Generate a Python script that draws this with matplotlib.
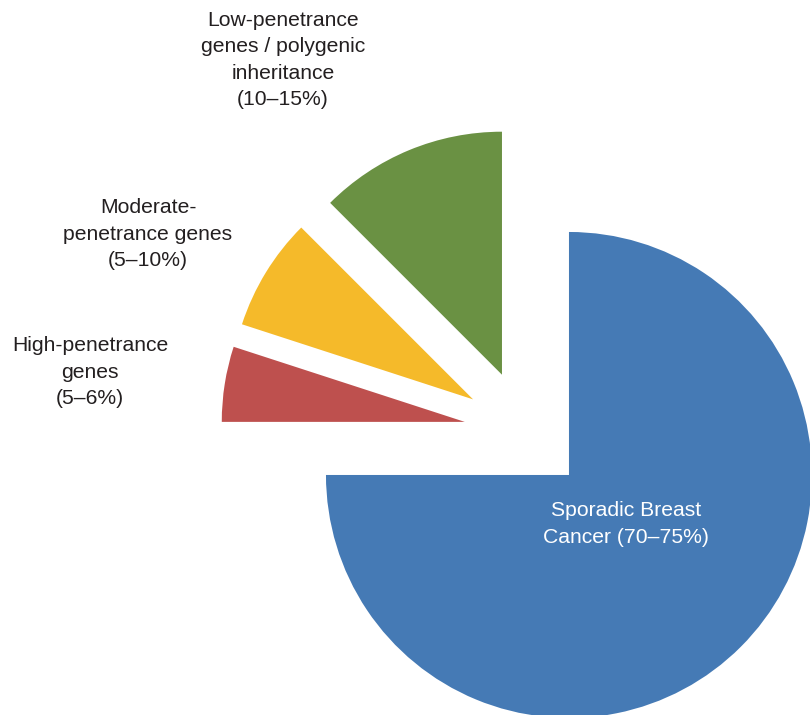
import matplotlib
matplotlib.use("Agg")
import matplotlib.pyplot as plt

plt.rcParams['font.family'] = ['Liberation Sans', 'DejaVu Sans']

# Shares of breast cancer cases by genetic background (percent)
categorias = [
    "Low-penetrance\ngenes / polygenic\ninheritance\n(10–15%)",
    "Moderate-\npenetrance genes\n(5–10%)",
    "High-penetrance\ngenes\n(5–6%)",
    "Sporadic Breast\nCancer (70–75%)",
]
valores = [12.5, 7.5, 5, 75]
colores = ["#6a9143", "#f5ba2a", "#be504e", "#457ab5"]

W, H = 810, 715
R = 243
fig = plt.figure(figsize=(W / 100, H / 100), dpi=100)
ax = fig.add_axes([0, 0, 1, 1])

# pie in pixel-like units, y measured from the bottom
# (explode is in data units here, not a fraction of the radius)
ax.pie(valores, colors=colores, startangle=90, counterclock=True,
       explode=[0.253 * R] * len(valores), radius=R, center=(525.5, H - 431.5),
       wedgeprops=dict(linewidth=0))

ax.set_xlim(0, W)
ax.set_ylim(0, H)
ax.set_aspect('equal')
ax.axis('off')

# etiquetas: (x, y desde arriba, color)
pos_etiquetas = [(283, 60, "#231f20"), (148, 234, "#231f20"),
                 (90, 372, "#231f20"), (626, 524, "white")]
for texto, (x, y, c) in zip(categorias, pos_etiquetas):
    ax.text(x, H - y, texto, ha='center', va='center', color=c,
            fontsize=15.2, linespacing=1.48)

fig.savefig("out.png", dpi=100)
